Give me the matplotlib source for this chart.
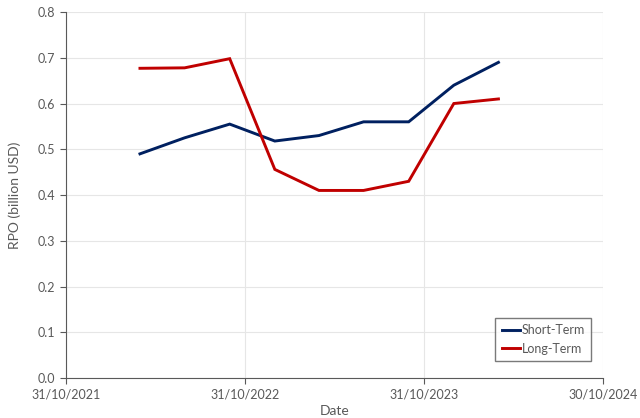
import matplotlib
matplotlib.use("Agg")
import matplotlib.pyplot as plt
import matplotlib.dates as mdates
from datetime import datetime

dates = ["2022-03-31", "2022-06-30", "2022-09-30", "2022-12-31", "2023-03-31",
         "2023-06-30", "2023-09-30", "2023-12-31", "2024-03-31"]
short_term = [0.49, 0.525, 0.555, 0.518, 0.53, 0.56, 0.56, 0.64, 0.69]
long_term = [0.677, 0.678, 0.698, 0.456, 0.41, 0.41, 0.43, 0.60, 0.61]
tick_dates = ["2021-10-31", "2022-10-31", "2023-10-31", "2024-10-30"]
tick_labels = ["31/10/2021", "31/10/2022", "31/10/2023", "30/10/2024"]

plt.rcParams['font.family'] = ['Lato', 'DejaVu Sans']
txt = '#595959'

x = [datetime.strptime(d, "%Y-%m-%d") for d in dates]
tx = [datetime.strptime(d, "%Y-%m-%d") for d in tick_dates]

fig = plt.figure(figsize=(6.4, 4.18), dpi=100)
ax = fig.add_axes([0.103, 0.0957, 0.839, 0.8755])

ax.plot(x, short_term, color='#002060', lw=2.1, label='Short-Term', solid_joinstyle='miter')
ax.plot(x, long_term, color='#C00000', lw=2.1, label='Long-Term', solid_joinstyle='miter')

ax.set_xlim(tx[0], tx[-1])
ax.set_ylim(0, 0.8)
ax.set_xticks(tx)
ax.set_xticklabels(tick_labels)
ax.set_yticks([i / 10 for i in range(9)])
ax.set_yticklabels([f"{i/10:.1f}" for i in range(9)])

ax.grid(True, color='#E6E6E6', lw=0.8)
ax.set_axisbelow(True)
for s in ['top', 'right']:
    ax.spines[s].set_visible(False)
for s in ['left', 'bottom']:
    ax.spines[s].set_color('#595959')
    ax.spines[s].set_linewidth(0.8)
ax.tick_params(axis='both', colors='#595959', labelcolor=txt, labelsize=9, length=4, width=0.8)

ax.set_xlabel('Date', color=txt, fontsize=10, labelpad=3)
ax.set_ylabel('RPO (billion USD)', color=txt, fontsize=10, labelpad=12)

leg = ax.legend(loc='lower right', bbox_to_anchor=(0.99, 0.03), fontsize=9,
                frameon=True, fancybox=False, handlelength=1.5, handletextpad=0.1,
                borderpad=0.5, labelspacing=0.5)
leg.get_frame().set_edgecolor('#595959')
leg.get_frame().set_linewidth(1.0)
for t in leg.get_texts():
    t.set_color(txt)

fig.savefig('out.png', dpi=100)
